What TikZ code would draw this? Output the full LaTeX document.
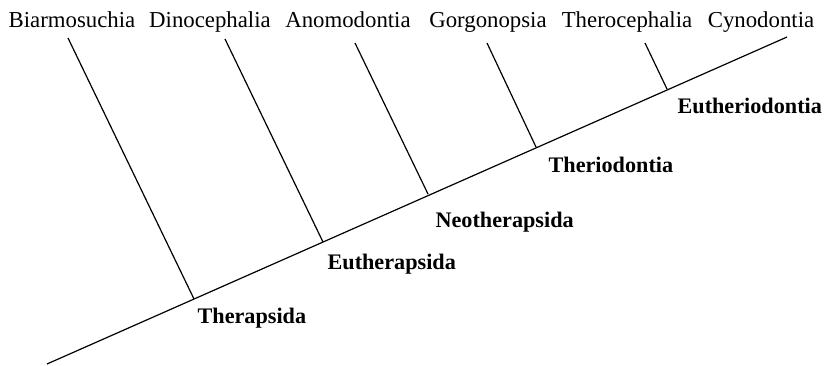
\documentclass[tikz,border=0pt]{standalone}
\usepackage{fontspec}
\setmainfont{Liberation Serif}
\usepackage{tikz}
\usetikzlibrary{positioning}

\begin{document}
\begin{tikzpicture}[x=0.5pt,y=-0.5pt,line width=0.6pt,
		taxon/.style={anchor=base,inner sep=0pt,font=\fontsize{11.4}{13}\selectfont},
		clade/.style={anchor=base west,inner sep=0pt,font=\fontsize{11.1}{13}\selectfont\bfseries}]
	\useasboundingbox (0,0) rectangle (824,365);
	% trunk
	\coordinate (root) at (47,364);
	\coordinate (tip) at (787,37);
	\draw (root)--(tip);
	% branching points on the trunk
	\coordinate (j1) at (194,299);
	\coordinate (j2) at (323,242);
	\coordinate (j3) at (428,194);
	\coordinate (j4) at (536,147);
	\coordinate (j5) at (667,89);
	% branch ends
	\coordinate (t1) at (68,38);
	\coordinate (t2) at (225,39);
	\coordinate (t3) at (355,43);
	\coordinate (t4) at (487,43);
	\coordinate (t5) at (645,43);
	\draw (t1)--(j1) (t2)--(j2) (t3)--(j3) (t4)--(j4) (t5)--(j5);
	% taxa
	\node[taxon] (biarm) at (72,27) {Biarmosuchia};
	\node[taxon] (dino) at (210,27) {Dinocephalia};
	\node[taxon] (anom) at (348,27) {Anomodontia};
	\node[taxon] (gorg) at (488,27) {Gorgonopsia};
	\node[taxon] (thero) at (627,27) {Therocephalia};
	\node[taxon] (cyno) at (761,27) {Cynodontia};
	% clades
	\node[clade] (therap) at (197,323) {Therapsida};
	\node[clade] (euthe) at (327,269) {Eutherapsida};
	\node[clade] (neoth) at (435,227) {Neotherapsida};
	\node[clade] (theri) at (548,172) {Theriodontia};
	\node[clade] (eutheri) at (677,113) {Eutheriodontia};
\end{tikzpicture}
\end{document}
